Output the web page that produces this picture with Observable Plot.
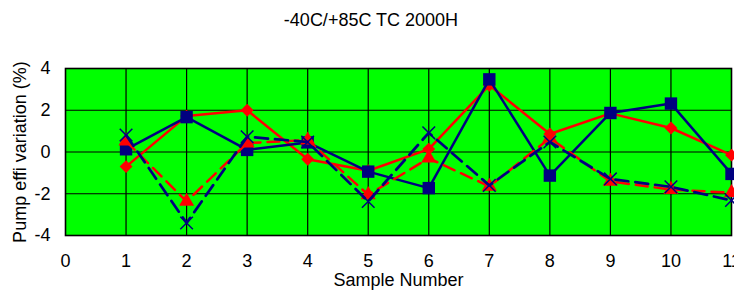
<!DOCTYPE html>
<html>
<head>
<meta charset="utf-8">
<script src="https://cdn.jsdelivr.net/npm/d3@7"></script>
<script src="https://cdn.jsdelivr.net/npm/@observablehq/plot@0.6"></script>
<style>
  html, body { margin: 0; padding: 0; background: white; overflow: hidden; }
  #title { height: 40px; box-sizing: border-box; padding-top: 10px; padding-left: 8px; text-align: center;
           font-family: "Liberation Sans", Arial, sans-serif; font-size: 18px; color: #000; width: 734px; }
</style>
</head>
<body>
<div id="title">-40C/+85C TC 2000H</div>
<div id="chart"></div>
<script>
const samples = [1, 2, 3, 4, 5, 6, 7, 8, 9, 10, 11];
const redDiamond = [-0.7, 1.72, 2.0, -0.35, -0.9, 0.14, 3.2, 0.86, 1.85, 1.15, -0.15];
const blueSquare = [0.13, 1.67, 0.1, 0.46, -0.94, -1.73, 3.48, -1.13, 1.87, 2.32, -1.05];
const redTriangle = [0.52, -2.37, 0.43, 0.57, -2.05, -0.3, -1.65, 0.67, -1.41, -1.8, -1.95];
const blueTimes = [0.81, -3.4, 0.73, 0.48, -2.37, 0.92, -1.6, 0.48, -1.29, -1.67, -2.32];
const xTicks = [0, 1, 2, 3, 4, 5, 6, 7, 8, 9, 10, 11];
const yTicks = [-4, -2, 0, 2, 4];
const xLabel = "Sample Number";
const yLabel = "Pump effi variation (%)";

const rows = (vals) => samples.map((s, i) => ({x: s, y: vals[i]}));
const s1 = rows(redDiamond), s2 = rows(blueSquare), s3 = rows(redTriangle), s4 = rows(blueTimes);
const RED = "#ff0000", NAVY = "#000080";

const chart = Plot.plot({
  width: 734,
  height: 250,
  marginTop: 28,
  marginBottom: 55,
  marginLeft: 65,
  marginRight: 3,
  style: {fontFamily: "'Liberation Sans', Arial, sans-serif", fontSize: "18px", background: "white", color: "#000"},
  x: {domain: [0, 11], ticks: xTicks, tickSize: 0, tickPadding: 19, tickFormat: d => String(d),
      label: xLabel, labelAnchor: "center", labelOffset: 50, labelArrow: "none"},
  y: {domain: [-4, 4], ticks: yTicks, tickSize: 0, tickPadding: 15, tickFormat: d => String(d),
      label: yLabel, labelAnchor: "center", labelOffset: 52, labelArrow: "none"},
  marks: [
    Plot.frame({fill: "#00ff00", stroke: null}),
    Plot.ruleX(xTicks.slice(1, -1), {stroke: "#000", strokeWidth: 1.2}),
    Plot.ruleY(yTicks.slice(1, -1), {stroke: "#000", strokeWidth: 1.2}),
    Plot.frame({stroke: "#000", strokeWidth: 1.6}),
    Plot.line(s1, {x: "x", y: "y", stroke: RED, strokeWidth: 2.5}),
    Plot.dot(s1, {x: "x", y: "y", symbol: "diamond2", r: 5.8, fill: RED, stroke: null}),
    Plot.line(s2, {x: "x", y: "y", stroke: NAVY, strokeWidth: 2.5}),
    Plot.dot(s2, {x: "x", y: "y", symbol: "square", r: 7, fill: NAVY, stroke: null}),
    Plot.line(s3, {x: "x", y: "y", stroke: RED, strokeWidth: 2.5, strokeDasharray: "12,7"}),
    Plot.dot(s3, {x: "x", y: "y", symbol: "triangle", r: 5.6, fill: RED, stroke: null}),
    Plot.line(s4, {x: "x", y: "y", stroke: NAVY, strokeWidth: 2.7, strokeDasharray: "13,7"}),
    Plot.dot(s4, {x: "x", y: "y", symbol: "times", r: 5.8, fill: "none", stroke: NAVY, strokeWidth: 1.5})
  ]
});
document.getElementById("chart").appendChild(chart);
</script>
</body>
</html>
